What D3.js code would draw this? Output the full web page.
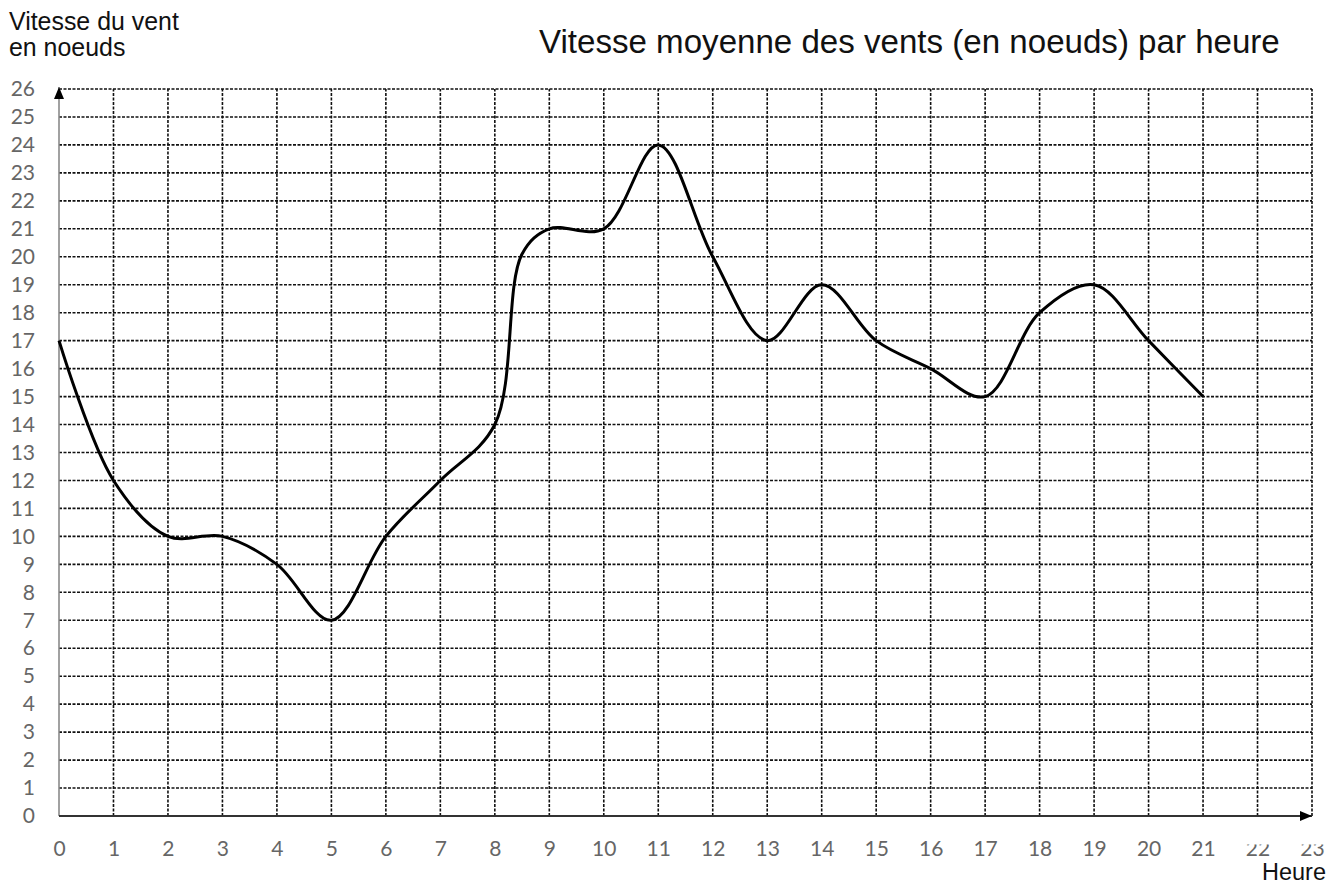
<!DOCTYPE html>
<html>
<head>
<meta charset="utf-8">
<script src="https://cdn.jsdelivr.net/npm/d3@7"></script>
<style>
  body { margin: 0; background: #fff; }
  svg text { font-family: "Liberation Sans", Arial, sans-serif; }
  .tick text { font-family: Lato, "Open Sans", sans-serif; fill: #666; }
  .grid line { stroke: #111; stroke-width: 1.6; stroke-dasharray: 3 1.5; }
</style>
</head>
<body>
<svg width="1342" height="885"></svg>
<script>
// heures et vitesse moyenne du vent (noeuds)
const hours = [0, 1, 2, 3, 4, 5, 6, 7, 8, 8.5, 9, 10, 11, 12, 13, 14, 15, 16, 17, 18, 19, 20, 21];
const speeds = [17, 12, 10, 10, 9, 7, 10, 12, 14, 20.1, 21, 21, 24, 20, 17, 19, 17, 16, 15, 18, 19, 17, 15];
const xTicks = d3.range(0, 24);
const yTicks = d3.range(0, 27);

const svg = d3.select("svg");
const x = d3.scaleLinear().domain([0, 23]).range([59, 1312]);
const y = d3.scaleLinear().domain([0, 26]).range([816, 89]);

// grille pointillée
const grid = svg.append("g").attr("class", "grid");
grid.selectAll("line.h")
  .data(yTicks.filter((d) => d > 0))
  .join("line")
  .attr("class", "h")
  .attr("x1", x(0)).attr("x2", x(23))
  .attr("y1", (d) => y(d)).attr("y2", (d) => y(d));
grid.selectAll("line.v")
  .data(xTicks.filter((d) => d > 0))
  .join("line")
  .attr("class", "v")
  .attr("x1", (d) => x(d)).attr("x2", (d) => x(d))
  .attr("y1", y(0)).attr("y2", y(26));

// flèches
const defs = svg.append("defs");
defs.append("marker")
  .attr("id", "arrow")
  .attr("viewBox", "0 0 12 10")
  .attr("refX", 12).attr("refY", 5)
  .attr("markerWidth", 12).attr("markerHeight", 10)
  .attr("markerUnits", "userSpaceOnUse")
  .attr("orient", "auto")
  .append("path")
  .attr("d", "M0,0L12,5L0,10Z")
  .attr("fill", "#000");
// les étiquettes 22 et 23 sont coupées en haut
defs.append("clipPath")
  .attr("id", "cut")
  .append("rect")
  .attr("x", -40).attr("y", 28.5).attr("width", 80).attr("height", 40);

svg.append("line")
  .attr("x1", x(0)).attr("y1", y(0))
  .attr("x2", x(0)).attr("y2", y(26) - 2)
  .attr("stroke", "#8a8a8a").attr("stroke-width", 1.6)
  .attr("marker-end", "url(#arrow)");
svg.append("line")
  .attr("x1", x(0)).attr("y1", y(0))
  .attr("x2", x(23)).attr("y2", y(0))
  .attr("stroke", "#333").attr("stroke-width", 2)
  .attr("marker-end", "url(#arrow)");

// axes (étiquettes seulement)
const yAxis = svg.append("g")
  .attr("transform", `translate(${x(0)},0)`)
  .call(d3.axisLeft(y).tickValues(yTicks).tickSize(0).tickPadding(24));
yAxis.select(".domain").remove();
yAxis.selectAll("text").attr("font-size", 21);

const xAxis = svg.append("g")
  .attr("transform", `translate(0,${y(0)})`)
  .call(d3.axisBottom(x).tickValues(xTicks).tickSize(0).tickPadding(25));
xAxis.select(".domain").remove();
xAxis.selectAll("text").attr("font-size", 21);
xAxis.selectAll(".tick")
  .filter((d) => d >= 22)
  .attr("clip-path", "url(#cut)");

// courbe
const line = d3.line()
  .x((d, i) => x(hours[i]))
  .y((d) => y(d))
  .curve(d3.curveCatmullRom.alpha(0.5));
svg.append("path")
  .datum(speeds)
  .attr("d", line)
  .attr("fill", "none")
  .attr("stroke", "#000")
  .attr("stroke-width", 3)
  .attr("stroke-linejoin", "round");

// textes
function fit(sel, w) {
  const len = sel.node().getComputedTextLength();
  sel.attr("font-size", +sel.attr("font-size") * w / len);
}
svg.append("text")
  .attr("x", 539).attr("y", 53)
  .attr("font-size", 28)
  .attr("fill", "#111")
  .text("Vitesse moyenne des vents (en noeuds) par heure")
  .call(fit, 741);
const yl = svg.append("text")
  .attr("x", 9).attr("y", 30)
  .attr("font-size", 22)
  .attr("fill", "#111")
  .text("Vitesse du vent")
  .call(fit, 170);
svg.append("text")
  .attr("x", 9).attr("y", 56)
  .attr("font-size", yl.attr("font-size"))
  .attr("fill", "#111")
  .text("en noeuds");
svg.append("text")
  .attr("x", 1262).attr("y", 880)
  .attr("font-size", 22)
  .attr("fill", "#111")
  .text("Heure")
  .call(fit, 64);
</script>
</body>
</html>
